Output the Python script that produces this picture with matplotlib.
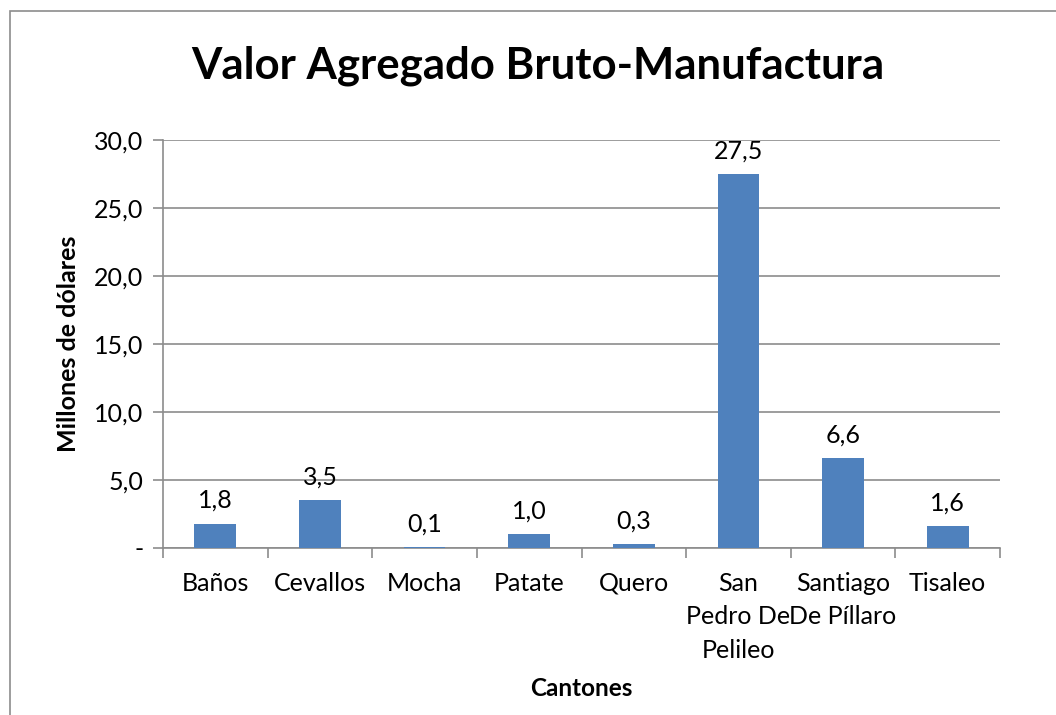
import matplotlib
matplotlib.use('agg')
import matplotlib.pyplot as plt
from matplotlib.patches import Rectangle
import numpy as np

cantones = ['Baños', 'Cevallos', 'Mocha', 'Patate', 'Quero',
            'San\nPedro De\nPelileo', 'Santiago\nDe Píllaro', 'Tisaleo']
valores = [1.8, 3.5, 0.1, 1.0, 0.3, 27.5, 6.6, 1.6]
y_ticks = [0, 5, 10, 15, 20, 25, 30]

plt.rcParams['font.family'] = ['Lato', 'DejaVu Sans']

fig = plt.figure(figsize=(10.56, 7.15), dpi=100)
ax = fig.add_axes([163/1056, 1 - 548/715, (1000 - 163)/1056, (548 - 140)/715])

# outer chart frame (only left/top visible in the reference)
fig.patches.append(Rectangle((10/1056, -0.1), 1.2, 1 - 11/715 + 0.1,
                             transform=fig.transFigure, fill=False,
                             edgecolor='#8c8c8c', linewidth=1.2))

x = np.arange(len(cantones))
ax.bar(x, valores, width=0.4, color='#4F81BD', zorder=3)

for xi, v in zip(x, valores):
    ax.text(xi, v + 0.85, ('%.1f' % v).replace('.', ','), ha='center', va='bottom',
            fontsize=18, color='black')

ax.set_xlim(-0.5, len(cantones) - 0.5)
ax.set_ylim(0, 30)
ax.set_yticks(y_ticks)
ax.set_yticklabels(['-' if t == 0 else ('%.1f' % t).replace('.', ',') for t in y_ticks],
                   fontsize=18)
ax.yaxis.grid(True, color='#8c8c8c', linewidth=1.2, zorder=0)

ax.set_xticks(x)
ax.set_xticklabels(cantones, fontsize=18, linespacing=1.55, va='top')
ax.set_xticks(np.arange(len(cantones) + 1) - 0.5, minor=True)
ax.tick_params(axis='x', which='major', length=0, pad=17)
ax.tick_params(axis='x', which='minor', length=7, color='#8c8c8c', width=1.2)
ax.tick_params(axis='y', length=7, color='#8c8c8c', width=1.2, pad=7)

for side in ['top', 'right']:
    ax.spines[side].set_visible(False)
ax.spines['left'].set_color('#8c8c8c')
ax.spines['bottom'].set_color('#8c8c8c')
ax.spines['left'].set_linewidth(1.2)
ax.spines['bottom'].set_linewidth(1.2)

ax.set_ylabel('Millones de dólares', fontsize=18, fontweight='bold', labelpad=10)
fig.text(ax.get_position().x0 + ax.get_position().width / 2, 1 - 688/715, 'Cantones',
         ha='center', va='center', fontsize=17.5, fontweight='bold')

fig.text(538/1056, 1 - 66/715, 'Valor Agregado Bruto-Manufactura',
         ha='center', va='center', fontsize=31.5, fontweight='bold')

plt.savefig('out.png', dpi=100)
